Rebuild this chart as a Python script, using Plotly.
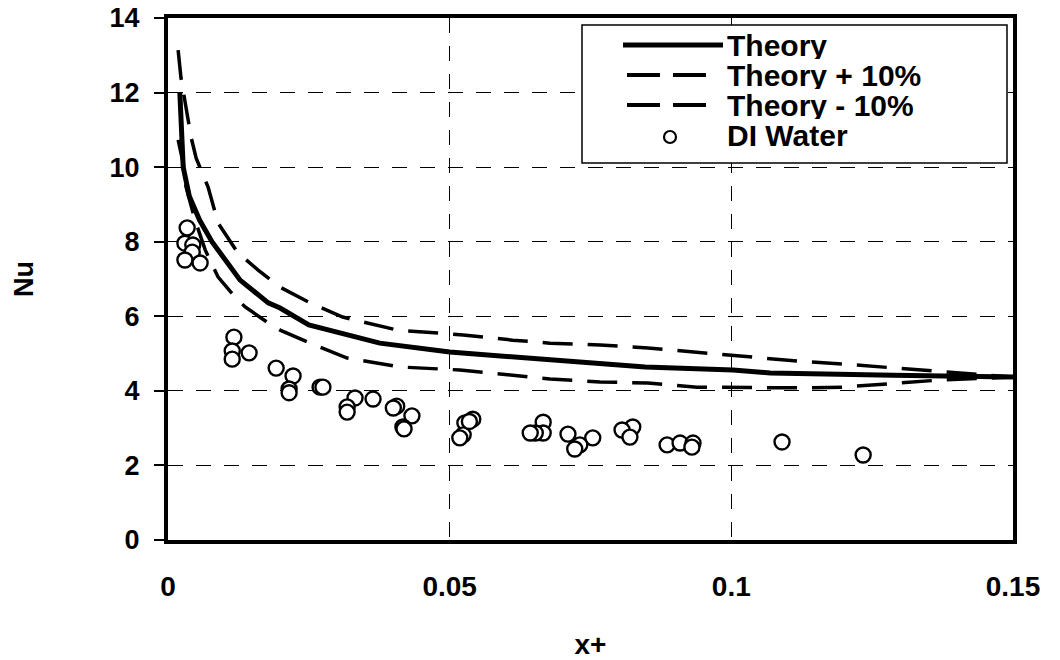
import plotly.graph_objects as go

# Theory curve
theory_x = [0.0021, 0.0027, 0.0038, 0.0056, 0.0078, 0.0128, 0.0178, 0.0199, 0.0250,
            0.0376, 0.0500, 0.0643, 0.0847, 0.1003, 0.1069, 0.1287, 0.1500]
theory_y = [12.0, 10.0, 9.21, 8.58, 8.0, 6.97, 6.36, 6.22, 5.77,
            5.28, 5.04, 4.88, 4.64, 4.56, 4.48, 4.42, 4.37]

# Theory + 10%
plus_x = [0.0018, 0.0023, 0.0041, 0.0050, 0.0071, 0.0089, 0.0124, 0.0160, 0.0199, 0.0252,
          0.0310, 0.0407, 0.0524, 0.0612, 0.0678, 0.0767, 0.0852, 0.0939, 0.1028,
          0.1117, 0.1198, 0.1287, 0.1370, 0.1500]
plus_y = [13.14, 12.4, 10.8, 10.24, 9.47, 8.5, 7.7, 7.24, 6.78, 6.36,
          5.98, 5.63, 5.50, 5.36, 5.28, 5.23, 5.15, 5.04, 4.91,
          4.80, 4.72, 4.61, 4.51, 4.37]

# Theory - 10%
minus_x = [0.0018, 0.0027, 0.0032, 0.0048, 0.0066, 0.0089, 0.0119, 0.0137, 0.0178, 0.0199,
           0.0252, 0.0318, 0.0412, 0.0518, 0.0612, 0.0678, 0.0767, 0.0852, 0.0939,
           0.1028, 0.1117, 0.1198, 0.1287, 0.1370, 0.1500]
minus_y = [10.73, 10.1, 9.47, 8.58, 7.78, 7.05, 6.52, 6.25, 5.82, 5.63,
           5.28, 4.88, 4.64, 4.56, 4.42, 4.32, 4.24, 4.21, 4.10,
           4.08, 4.08, 4.10, 4.21, 4.29, 4.37]

# DI Water measurements
water_x = [0.0034, 0.0030, 0.0044, 0.0043, 0.0030, 0.0057,
           0.0117, 0.0114, 0.0114, 0.0144,
           0.0192, 0.0222, 0.0215, 0.0215,
           0.0270, 0.0275,
           0.0332, 0.0318, 0.0318, 0.0364,
           0.0406, 0.0400, 0.0433, 0.0417, 0.0419,
           0.0541, 0.0527, 0.0524, 0.0518, 0.0535,
           0.0666, 0.0666, 0.0652, 0.0643,
           0.0710, 0.0754, 0.0731, 0.0722,
           0.0825, 0.0806, 0.0820,
           0.0886, 0.0909, 0.0932, 0.0930,
           0.1090, 0.1234]
water_y = [8.37, 7.96, 7.91, 7.72, 7.51, 7.43,
           5.44, 5.07, 4.85, 5.02,
           4.61, 4.40, 4.05, 3.95,
           4.10, 4.10,
           3.81, 3.57, 3.43, 3.78,
           3.59, 3.54, 3.33, 3.03, 2.98,
           3.24, 3.14, 2.82, 2.74, 3.18,
           3.16, 2.87, 2.87, 2.87,
           2.84, 2.74, 2.55, 2.44,
           3.03, 2.95, 2.76,
           2.55, 2.60, 2.60, 2.49,
           2.63, 2.28]

x_ticks = [0, 0.05, 0.1, 0.15]
x_tick_labels = ["0", "0.05", "0.1", "0.15"]
y_ticks = [0, 2, 4, 6, 8, 10, 12, 14]
legend_labels = ["Theory", "Theory + 10%", "Theory - 10%", "DI Water"]

FONT = "Arial, 'Liberation Sans', sans-serif"
W, H = 1060, 660
ML, MR, MT, MB = 168, 47, 18, 120
PW, PH = W - ML - MR, H - MT - MB


def px(xpix):
    return (xpix - ML) / PW


def py(ypix):
    return (H - MB - ypix) / PH


fig = go.Figure()
fig.add_trace(go.Scatter(x=theory_x, y=theory_y, mode="lines", name=legend_labels[0],
                         line=dict(color="black", width=5)))
fig.add_trace(go.Scatter(x=plus_x, y=plus_y, mode="lines", name=legend_labels[1],
                         line=dict(color="black", width=3.5, dash="30px,15px")))
fig.add_trace(go.Scatter(x=minus_x, y=minus_y, mode="lines", name=legend_labels[2],
                         line=dict(color="black", width=3.5, dash="30px,15px")))
fig.add_trace(go.Scatter(x=water_x, y=water_y, mode="markers", name=legend_labels[3],
                         marker=dict(symbol="circle", size=15, color="white",
                                     line=dict(color="black", width=2.4))))

# Legend box drawn in paper space (Excel-style legend)
shapes = [
    dict(type="rect", xref="paper", yref="paper", x0=px(582), x1=px(1007),
         y0=py(163), y1=py(25), line=dict(color="black", width=1.5),
         fillcolor="white", layer="above"),
]
row_y = [45, 75, 105, 135]
sample_specs = [
    (623, 723, dict(color="black", width=5)),
    (627, 707, dict(color="black", width=4, dash="33px,13px")),
    (627, 707, dict(color="black", width=4, dash="33px,13px")),
]
for ry, (xa, xb, st) in zip(row_y[:3], sample_specs):
    shapes.append(dict(type="line", xref="paper", yref="paper",
                       x0=px(xa), x1=px(xb), y0=py(ry), y1=py(ry),
                       line=st, layer="above"))
shapes.append(dict(type="circle", xref="paper", yref="paper",
                   x0=px(664), x1=px(676), y0=py(143), y1=py(131),
                   line=dict(color="black", width=2.2), fillcolor="white", layer="above"))

annotations = []
for ry, lab in zip(row_y, legend_labels):
    annotations.append(dict(text=lab, xref="paper", yref="paper", x=px(725), y=py(ry),
                            xanchor="left", yanchor="middle", showarrow=False,
                            height=28, valign="middle",
                            font=dict(family=FONT, size=30, color="black", weight="bold")))

fig.update_layout(
    width=W, height=H,
    margin=dict(l=ML, r=MR, t=MT, b=MB, autoexpand=False),
    paper_bgcolor="white", plot_bgcolor="white",
    font=dict(family=FONT, color="black", size=27),
    showlegend=False,
    shapes=shapes,
    annotations=annotations,
)

fig.update_xaxes(
    range=[0, 0.15], tickvals=x_ticks, ticktext=x_tick_labels,
    showline=True, linecolor="black", linewidth=4, mirror=True,
    showgrid=True, gridcolor="black", gridwidth=1.3, griddash="15px,13px",
    zeroline=False, ticks="", ticklabelstandoff=18, automargin=False,
    tickfont=dict(family=FONT, size=28, color="black", weight="bold"),
    title=dict(text="x+", font=dict(family=FONT, size=28, color="black", weight="bold"),
               standoff=40),
)
fig.update_yaxes(
    range=[0, 14], tickvals=y_ticks,
    showline=True, linecolor="black", linewidth=4, mirror=True,
    showgrid=True, gridcolor="black", gridwidth=1.3, griddash="15px,13px",
    zeroline=False, ticks="outside", ticklen=10, tickwidth=1.5, tickcolor="black",
    ticklabelstandoff=9, automargin=False,
    tickfont=dict(family=FONT, size=27, color="black", weight="bold"),
    title=dict(text="Nu", font=dict(family=FONT, size=27, color="black", weight="bold"),
               standoff=69),
)

fig.write_html("out.html")
